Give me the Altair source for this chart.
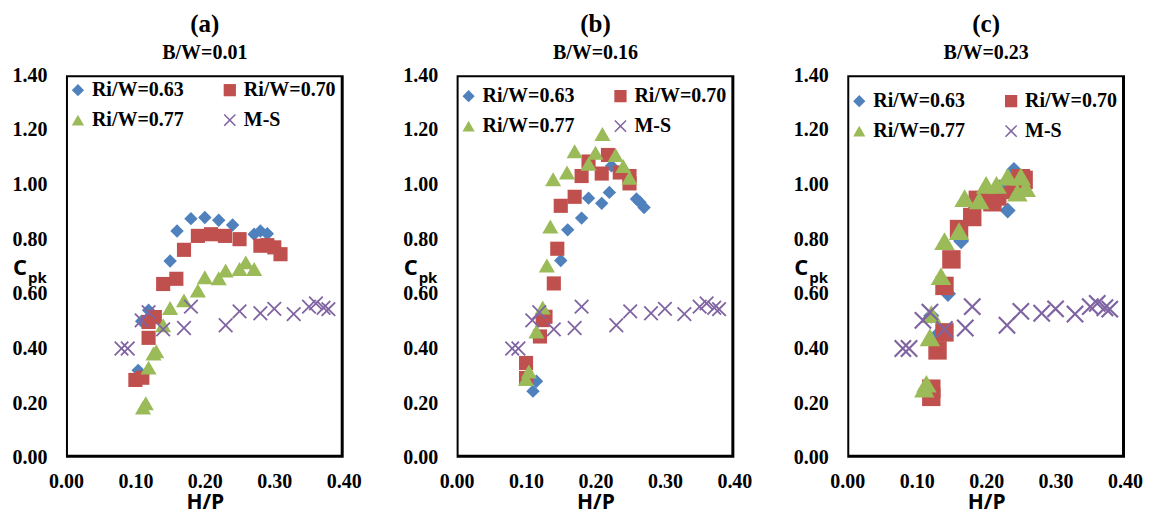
import altair as alt
import pandas as pd

SERIES = ["Ri/W=0.63", "Ri/W=0.70", "Ri/W=0.77", "M-S"]
COLORS = ["#4F81BD", "#C0504D", "#9BBB59", "#8064A2"]
XPATH = "M0.83,-1L1,-0.83L0.17,0L1,0.83L0.83,1L0,0.17L-0.83,1L-1,0.83L-0.17,0L-1,-0.83L-0.83,-1L0,-0.17Z"
SHAPES = ["diamond", "square", "triangle-up", XPATH]
# legend fills column by column: this order gives rows (0.63, 0.70) and (0.77, M-S)
LEGEND_ORDER = [0, 2, 1, 3]

X_DOMAIN = [0.0, 0.4]
Y_DOMAIN = [0.0, 1.4]
X_TICKS = [0.0, 0.1, 0.2, 0.3, 0.4]
Y_TICKS = [0.0, 0.2, 0.4, 0.6, 0.8, 1.0, 1.2, 1.4]

# M-S model (same in all panels)
ms_x = [0.080, 0.089, 0.109, 0.119, 0.140, 0.170, 0.180, 0.230, 0.250, 0.280, 0.300, 0.328, 0.350, 0.360, 0.371, 0.378]
ms_y = [0.40, 0.40, 0.503, 0.533, 0.47, 0.475, 0.553, 0.485, 0.536, 0.529, 0.545, 0.526, 0.553, 0.565, 0.549, 0.544]

# (a) B/W = 0.01
a_blue_x = [0.104, 0.109, 0.119, 0.150, 0.160, 0.180, 0.200, 0.220, 0.240, 0.271, 0.280, 0.290]
a_blue_y = [0.32, 0.50, 0.54, 0.72, 0.83, 0.875, 0.879, 0.869, 0.852, 0.818, 0.83, 0.82]
a_red_x = [0.100, 0.110, 0.119, 0.119, 0.128, 0.140, 0.159, 0.170, 0.190, 0.209, 0.229, 0.250, 0.280, 0.290, 0.300, 0.309]
a_red_y = [0.285, 0.293, 0.439, 0.497, 0.515, 0.636, 0.655, 0.761, 0.812, 0.818, 0.812, 0.80, 0.776, 0.778, 0.77, 0.745]
a_green_x = [0.111, 0.115, 0.119, 0.126, 0.130, 0.140, 0.150, 0.170, 0.190, 0.200, 0.220, 0.230, 0.250, 0.259, 0.271]
a_green_y = [0.184, 0.20, 0.33, 0.382, 0.39, 0.485, 0.548, 0.576, 0.612, 0.661, 0.657, 0.685, 0.691, 0.715, 0.691]

# (b) B/W = 0.16
b_blue_x = [0.110, 0.115, 0.150, 0.160, 0.180, 0.190, 0.209, 0.220, 0.223, 0.259, 0.264, 0.270]
b_blue_y = [0.244, 0.28, 0.722, 0.834, 0.877, 0.95, 0.931, 0.971, 1.068, 0.947, 0.935, 0.916]
b_red_x = [0.100, 0.100, 0.120, 0.124, 0.128, 0.140, 0.145, 0.150, 0.170, 0.180, 0.190, 0.209, 0.218, 0.235, 0.249, 0.249]
b_red_y = [0.347, 0.292, 0.444, 0.504, 0.516, 0.638, 0.765, 0.922, 0.955, 1.031, 1.084, 1.04, 1.108, 1.044, 1.031, 1.004]
b_green_x = [0.100, 0.104, 0.115, 0.124, 0.130, 0.135, 0.139, 0.159, 0.170, 0.190, 0.200, 0.210, 0.229, 0.240, 0.249]
b_green_y = [0.288, 0.316, 0.462, 0.55, 0.704, 0.846, 1.019, 1.044, 1.122, 1.076, 1.116, 1.185, 1.108, 1.068, 1.025]

# (c) B/W = 0.23
c_blue_x = [0.115, 0.121, 0.130, 0.145, 0.164, 0.180, 0.200, 0.220, 0.231, 0.240, 0.250]
c_blue_y = [0.25, 0.52, 0.45, 0.60, 0.793, 0.90, 0.97, 0.99, 0.905, 1.053, 1.00]
c_red_x = [0.121, 0.121, 0.130, 0.140, 0.140, 0.150, 0.161, 0.180, 0.188, 0.209, 0.216, 0.242, 0.250, 0.254]
c_red_y = [0.223, 0.253, 0.393, 0.459, 0.629, 0.726, 0.837, 0.881, 0.944, 0.935, 0.956, 0.98, 1.023, 1.017]
c_green_x = [0.111, 0.114, 0.119, 0.121, 0.135, 0.140, 0.161, 0.169, 0.190, 0.200, 0.215, 0.231, 0.245, 0.250, 0.257]
c_green_y = [0.253, 0.271, 0.441, 0.526, 0.665, 0.793, 0.829, 0.95, 0.942, 0.999, 0.999, 1.029, 0.97, 1.029, 0.987]

SERIF = "Liberation Serif"
SANS = "Open Sans"
W, H = 278, 383


def make_df(bx, by, rx, ry, gx, gy):
    rows = []
    for name, xs, ys in [(SERIES[0], bx, by), (SERIES[1], rx, ry),
                         (SERIES[2], gx, gy), (SERIES[3], ms_x, ms_y)]:
        for x, y in zip(xs, ys):
            rows.append({"series": name, "hp": x, "cpk": y})
    return pd.DataFrame(rows)


def reorder(lst):
    return [lst[i] for i in LEGEND_ORDER]


def frame_path():
    # plot-area border drawn as one ring-shaped symbol centred on the plot
    half = H / 2.0
    ox = (W / 2.0) / half
    t_lt = 2.0 / half
    t_rb = 3.0 / half
    outer = f"M{-ox:.4f},-1H{ox:.4f}V1H{-ox:.4f}Z"
    inner = (f"M{-ox + t_lt:.4f},{-1 + t_lt:.4f}V{1 - t_rb:.4f}"
             f"H{ox - t_rb:.4f}V{-1 + t_lt:.4f}Z")
    return outer + inner


def panel(df, letter, bw, sizes, ly):
    dom = reorder(SERIES)
    leg = dict(orient="none", legendX=2, legendY=ly, columns=2, title=None,
               labelFont=SERIF, labelFontSize=20, labelFontWeight="bold",
               labelColor="black", symbolSize=150, symbolOpacity=1,
               symbolStrokeWidth=0, columnPadding=36, rowPadding=10,
               labelOffset=4, labelLimit=0)
    xs = alt.Scale(domain=X_DOMAIN, nice=False)
    ys = alt.Scale(domain=Y_DOMAIN, nice=False)
    frame = alt.Chart(pd.DataFrame({"f": [0]})).mark_point(
        shape=frame_path(), filled=True, color="black", opacity=1, strokeWidth=0,
        size=H * H).encode(
        x=alt.datum(sum(X_DOMAIN) / 2), y=alt.datum(sum(Y_DOMAIN) / 2))
    pts = alt.Chart(df).mark_point(filled=True, opacity=1, strokeWidth=0).encode(
        x=alt.X("hp:Q", scale=xs,
                axis=alt.Axis(values=X_TICKS, format=".2f", title="H/P", grid=False,
                              domain=False, ticks=False, labelPadding=14, labelFlush=False,
                              labelFont=SERIF, labelFontSize=20, labelFontWeight="bold",
                              labelColor="black", titleFont=SANS, titleFontSize=21,
                              titleFontWeight="bold", titleColor="black", titlePadding=0)),
        y=alt.Y("cpk:Q", scale=ys,
                axis=alt.Axis(values=Y_TICKS, format=".2f", title=None, grid=False,
                              domain=False, ticks=False, labelPadding=19, labelFlush=False,
                              labelFont=SERIF, labelFontSize=20, labelFontWeight="bold",
                              labelColor="black")),
        color=alt.Color("series:N", scale=alt.Scale(domain=dom, range=reorder(COLORS)),
                        legend=alt.Legend(**leg)),
        shape=alt.Shape("series:N", scale=alt.Scale(domain=dom, range=reorder(SHAPES)),
                        legend=alt.Legend(**leg)),
        size=alt.Size("series:N", scale=alt.Scale(type="ordinal", domain=SERIES, range=sizes),
                      legend=None),
    )
    c_txt = alt.Chart(pd.DataFrame({"t": ["C"]})).mark_text(
        font=SANS, fontWeight="bold", fontSize=22, align="left", baseline="middle",
        color="black").encode(text="t:N", x=alt.value(-53), y=alt.value(193))
    pk_txt = alt.Chart(pd.DataFrame({"t": ["pk"]})).mark_text(
        font=SANS, fontWeight="bold", fontSize=15, align="left", baseline="middle",
        color="black").encode(text="t:N", x=alt.value(-38), y=alt.value(203))
    return alt.layer(frame, pts, c_txt, pk_txt).properties(
        width=W, height=H,
        title=alt.TitleParams(text=letter, subtitle=bw, font=SERIF, fontSize=25,
                              fontWeight="bold", color="black", subtitleFont=SERIF,
                              subtitleFontSize=20, subtitleFontWeight="bold",
                              subtitleColor="black", anchor="middle", offset=2,
                              subtitlePadding=6),
    )


size_ab = [180, 200, 260, 220]
size_c = [260, 340, 420, 320]

pa = panel(make_df(a_blue_x, a_blue_y, a_red_x, a_red_y, a_green_x, a_green_y),
           "(a)", "B/W=0.01", size_ab, 5)
pb = panel(make_df(b_blue_x, b_blue_y, b_red_x, b_red_y, b_green_x, b_green_y),
           "(b)", "B/W=0.16", size_ab, 11)
pc = panel(make_df(c_blue_x, c_blue_y, c_red_x, c_red_y, c_green_x, c_green_y),
           "(c)", "B/W=0.23", size_c, 16)

chart = alt.hconcat(pa, pb, pc, spacing=113, bounds="flush").resolve_scale(
    color="independent", shape="independent", size="independent"
).resolve_legend(color="independent", shape="independent").configure_view(
    strokeWidth=0
).properties(padding={"left": 4, "top": 4, "right": 0, "bottom": 0})

chart.save("out.html", embed_options={"renderer": "svg", "actions": False})
